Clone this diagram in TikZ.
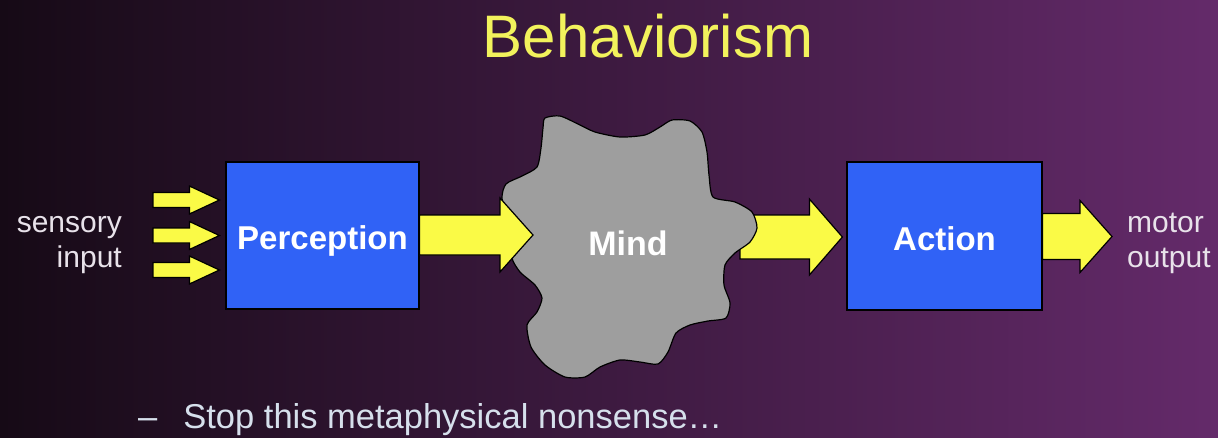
\documentclass[tikz,border=0pt]{standalone}
\usepackage{fontspec}
\setmainfont{Liberation Sans}
\usetikzlibrary{calc}
\definecolor{bgL}{RGB}{22,10,22}
\definecolor{bgR}{RGB}{100,42,106}
\definecolor{ttl}{RGB}{242,242,92}
\definecolor{arr}{RGB}{250,250,70}
\definecolor{boxblue}{RGB}{48,98,246}
\definecolor{mindgray}{RGB}{158,158,158}
\definecolor{lbl}{RGB}{232,226,234}
\definecolor{btm}{RGB}{214,224,236}
\tikzset{
  procbox/.style={draw=black, line width=1.2pt, fill=boxblue, minimum width=193pt,
    minimum height=147pt, inner sep=0pt, text=white,
    font=\fontsize{33}{36}\selectfont\bfseries, text height=28.5pt, text depth=0pt},
  sidelabel/.style={text=lbl, font=\fontsize{30}{35}\selectfont, inner sep=0pt},
  yarrow/.style={draw=black, line width=1.2pt, fill=arr, line join=miter},
  mindshape/.style={draw=black, line width=1.2pt, fill=mindgray},
}
% #1 start, #2 tip, #3 shaft half height, #4 head half height, #5 head length
\newcommand\blockarr[5]{\draw[yarrow] let \p1=(#1), \p2=(#2) in
  (\x1,{\y2+#3pt}) -- ({\x2-#5pt},{\y2+#3pt}) -- ({\x2-#5pt},{\y2+#4pt}) -- (\x2,\y2)
  -- ({\x2-#5pt},{\y2-#4pt}) -- ({\x2-#5pt},{\y2-#3pt}) -- (\x1,{\y2-#3pt}) -- cycle;}
\begin{document}
\begin{tikzpicture}[x=1pt,y=-1pt]
\useasboundingbox (0,0) rectangle (1218,437);
\shade[left color=bgL, right color=bgR] (0,0) rectangle (1218,437);

\node[text=ttl, font=\fontsize{60}{66}\selectfont, anchor=base, inner sep=0pt] (title) at (648,57) {Behaviorism};

\node[procbox] (perc) at (322.5,235.5) {Perception};
\node[procbox, minimum width=195pt, minimum height=148pt] (act) at (944.5,236) {Action};

\coordinate (in1) at (153,200);
\coordinate (in2) at (153,235);
\coordinate (in3) at (153,270);
\coordinate (mindL) at (533,235);
\coordinate (mindR) at (740,237);
\coordinate (outTip) at (1112,236.5);

% Mind -> Action (behind the mind blob)
\blockarr{mindR}{$(act.west)+(-4,1)$}{22}{38}{33}

\draw[mindshape] plot[smooth cycle, tension=0.42] coordinates {
 (545,118) (560,116) (578,124) (595,132) (620,137) (645,135) (660,127) (672,120)
 (690,121) (702,132) (707,152) (709,175) (713,197) (735,202) (752,212) (757,228)
 (750,242) (735,253) (725,265) (724,285) (730,303) (726,318) (708,321) (690,325)
 (676,333) (668,352) (658,364) (640,362) (620,360) (600,367) (585,377) (565,377)
 (545,365) (531,347) (527,325) (537,312) (542,298) (535,285) (520,272) (512,258)
 (515,240) (508,220) (502,198) (506,184) (522,176) (537,167) (541,148) (543,128)};
\node[text=white, font=\fontsize{34}{38}\selectfont\bfseries, anchor=base, inner sep=0pt] (mind) at (628,255) {Mind};

% Perception -> Mind
\blockarr{perc.east}{mindL}{20}{37}{33}
% sensory inputs
\blockarr{in1}{$(perc.west)+(-6,-35.5)$}{7.5}{14}{30}
\blockarr{in2}{$(perc.west)+(-6,0)$}{7.5}{14}{30}
\blockarr{in3}{$(perc.west)+(-6,34.5)$}{7.5}{14}{30}
% Action -> output
\blockarr{act.east}{outTip}{23}{36}{32}

\node[sidelabel, anchor=base east] (sens1) at (122,232) {sensory};
\node[sidelabel, anchor=base east] (sens2) at (122,267) {input};
\node[sidelabel, anchor=base west] (mot1) at (1127,232) {motor};
\node[sidelabel, anchor=base west] (mot2) at (1127,267) {output};

\node[text=btm, font=\fontsize{34.5}{40}\selectfont, anchor=base west, inner sep=0pt] (note) at (138,428) {–\hspace{26pt}Stop this metaphysical nonsense…};
\end{tikzpicture}
\end{document}
